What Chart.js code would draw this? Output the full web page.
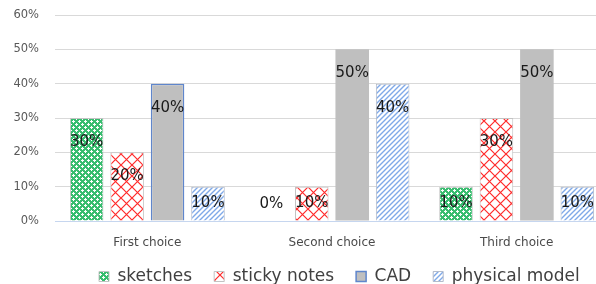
<!DOCTYPE html>
<html>
<head>
<meta charset="utf-8">
<script src="https://cdn.jsdelivr.net/npm/chart.js@4/dist/chart.umd.min.js"></script>
<style>
  html, body { margin: 0; padding: 0; background: #ffffff; overflow: hidden; }
  canvas { display: block; }
</style>
</head>
<body>
<canvas id="c" width="612" height="284"></canvas>
<script>
// ---- data ----
const categories = ['First choice', 'Second choice', 'Third choice'];
const seriesNames = ['sketches', 'sticky notes', 'CAD', 'physical model'];
const sketches = [30, 0, 10];
const stickyNotes = [20, 10, 30];
const cad = [40, 50, 50];
const physicalModel = [10, 40, 10];
const yTickLabels = ['0%', '10%', '20%', '30%', '40%', '50%', '60%'];

// ---- patterns ----
function makePattern(size, bg, draw) {
  const c = document.createElement('canvas');
  c.width = size; c.height = size;
  const g = c.getContext('2d');
  g.fillStyle = bg;
  g.fillRect(0, 0, size, size);
  draw(g, size);
  return g.createPattern(c, 'repeat');
}
// green with white plus-shaped dots (dotted diamond)
const greenPattern = makePattern(6, '#38bd6f', function (g) {
  g.fillStyle = '#ffffff';
  [[1, 1], [4, 4]].forEach(([cx, cy]) => {
    g.fillRect(cx, cy - 1, 1, 3);
    g.fillRect(cx - 1, cy, 3, 1);
  });
});
// red large diagonal cross-hatch
const redPattern = makePattern(11, '#ffffff', function (g, s) {
  g.strokeStyle = '#ff2a2a'; g.lineWidth = 1.2;
  g.beginPath();
  g.moveTo(-1, -1); g.lineTo(s + 1, s + 1);
  g.moveTo(s + 1, -1); g.lineTo(-1, s + 1);
  g.stroke();
});
// blue wide upward diagonal stripes
const bluePattern = makePattern(5, '#ffffff', function (g, s) {
  g.strokeStyle = '#7fa9e8'; g.lineWidth = 1.4;
  g.beginPath();
  g.moveTo(-1, s + 1); g.lineTo(s + 1, -1);
  g.moveTo(-1, 1); g.lineTo(1, -1);
  g.moveTo(s - 1, s + 1); g.lineTo(s + 1, s - 1);
  g.stroke();
});

// ---- value labels plugin ----
const valueLabels = {
  id: 'valueLabels',
  afterDatasetsDraw(chart) {
    const ctx = chart.ctx;
    ctx.save();
    ctx.font = '15px "DejaVu Sans"';
    ctx.fillStyle = '#1a1a1a';
    ctx.textAlign = 'center';
    ctx.textBaseline = 'middle';
    chart.data.datasets.forEach((ds, di) => {
      const meta = chart.getDatasetMeta(di);
      meta.data.forEach((bar, i) => {
        const y = Math.min(bar.y + 24, bar.base - 17);
        ctx.fillText(ds.data[i] + '%', bar.x, y);
      });
    });
    ctx.restore();
  }
};

// ---- legend size / placement plugin ----
const legendPlace = {
  id: 'legendPlace',
  beforeLayout(chart) {
    const lg = chart.legend;
    if (lg && !lg._fitPatched) {
      const orig = lg.fit;
      lg.fit = function () { orig.call(this); this.height = 33; };
      lg._fitPatched = true;
    }
  },
  afterLayout(chart) {
    const lg = chart.legend;
    if (!lg) return;
    const pad = lg.options.labels.padding;
    const dx = (99 - pad) - lg.left;
    lg.left += dx; lg.right += dx;
    lg.top = 246;
    lg.bottom = chart.height;
  }
};

new Chart(document.getElementById('c'), {
  type: 'bar',
  data: {
    labels: categories,
    datasets: [
      { label: seriesNames[0], data: sketches, backgroundColor: greenPattern, borderColor: '#c3c3c3', borderWidth: 1 },
      { label: seriesNames[1], data: stickyNotes, backgroundColor: redPattern, borderColor: '#c3c3c3', borderWidth: 1 },
      { label: seriesNames[2], data: cad, backgroundColor: '#bfbfbf', borderColor: '#5f86cc',
        borderWidth: (ctx) => ctx.dataIndex === 0 ? 1.5 : 0 },
      { label: seriesNames[3], data: physicalModel, backgroundColor: bluePattern, borderColor: '#b4bccb', borderWidth: 1 }
    ]
  },
  options: {
    responsive: false,
    animation: false,
    devicePixelRatio: 1,
    datasets: { bar: { categoryPercentage: 0.876, barPercentage: 0.83 } },
    layout: { padding: { top: 15, left: 0, right: 3, bottom: 0 } },
    scales: {
      x: {
        grid: { display: false, drawTicks: false },
        border: { display: false },
        ticks: { color: '#4a4a4a', font: { family: 'DejaVu Sans', size: 12 }, padding: 15, maxRotation: 0 },
        afterFit(s) { s.height = 30; }
      },
      y: {
        min: 0, max: 60,
        ticks: {
          stepSize: 10,
          color: '#595959',
          font: { family: 'DejaVu Sans', size: 11.5 },
          padding: 16,
          callback: (v, i) => yTickLabels[i]
        },
        grid: {
          drawTicks: false,
          color: (ctx) => ctx.tick && ctx.tick.value === 0 ? '#c6d6ef' : '#d9d9d9',
          lineWidth: 1
        },
        border: { display: false },
        afterFit(s) { s.width = 55; s.paddingTop = 0; s.paddingBottom = 0; }
      }
    },
    plugins: {
      tooltip: { enabled: false },
      legend: {
        position: 'bottom',
        align: 'start',
        labels: {
          color: '#404040',
          font: { family: 'DejaVu Sans', size: 17 },
          boxWidth: 10,
          boxHeight: 10,
          padding: 22
        }
      }
    }
  },
  plugins: [valueLabels, legendPlace]
});
</script>
</body>
</html>
